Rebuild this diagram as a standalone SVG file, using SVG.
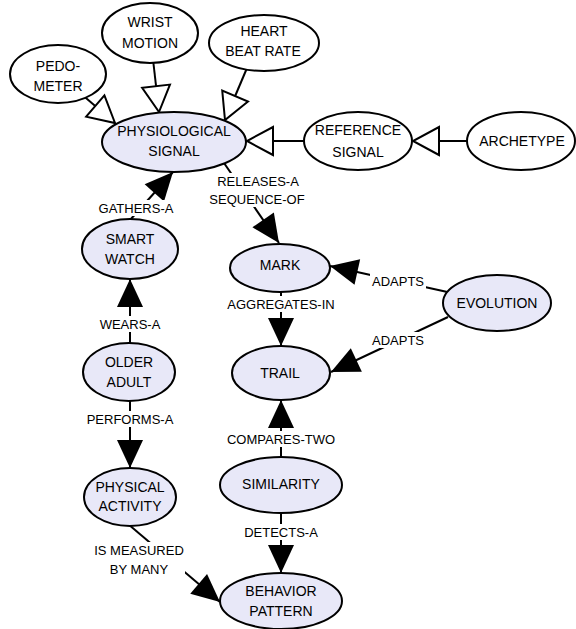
<svg xmlns="http://www.w3.org/2000/svg" width="576" height="629" viewBox="0 0 576 629">
<style>
.n ellipse{stroke:#000;stroke-width:2}
.w{fill:#fff}
.v{fill:#e8e8f8}
text{font-family:"Liberation Sans",Arial,sans-serif;fill:#000;text-anchor:middle}
.n text{font-size:14px}
.lbl text{font-size:13px}
.lbl rect{fill:#fff}
.c line{stroke:#000;stroke-width:2;fill:none}
.f{marker-end:url(#fa)}
.h{marker-end:url(#ha)}
</style>
<defs>
<marker id="fa" markerUnits="userSpaceOnUse" markerWidth="30" markerHeight="30" refX="28" refY="13" orient="auto" overflow="visible">
<path d="M0,0 L28,13 L0,26 Z" fill="#000"/>
</marker>
<marker id="ha" markerUnits="userSpaceOnUse" markerWidth="32" markerHeight="32" refX="27" refY="14" orient="auto" overflow="visible">
<path d="M1,0 L27,14 L1,28 Z" fill="#fff" stroke="#000" stroke-width="2" stroke-linejoin="miter"/>
</marker>
</defs>
<g id="connectors" class="c">
<line class="h" x1="58" y1="74" x2="115" y2="123"/>
<line class="h" x1="150" y1="33" x2="159" y2="112"/>
<line class="h" x1="247" y1="68" x2="225" y2="120"/>
<line class="h" x1="358" y1="141" x2="247" y2="141"/>
<line class="h" x1="521" y1="141" x2="413" y2="141"/>
<line class="f" x1="130" y1="220" x2="173" y2="172"/>
<line class="f" x1="224" y1="163" x2="279" y2="243"/>
<line class="f" x1="130" y1="372" x2="130" y2="279"/>
<line class="f" x1="130" y1="372" x2="130" y2="468"/>
<line class="f" x1="281" y1="268" x2="281" y2="346"/>
<line class="f" x1="497" y1="303" x2="330" y2="266"/>
<line class="f" x1="448" y1="317" x2="331" y2="372"/>
<line class="f" x1="281" y1="485" x2="281" y2="400"/>
<line class="f" x1="281" y1="485" x2="281" y2="573"/>
<line class="f" x1="128" y1="524" x2="220" y2="602"/>
<g class="lbl">
<rect x="97" y="200" width="78" height="16"/><text x="136" y="213">GATHERS-A</text>
<rect x="221" y="173" width="74" height="34"/><text x="258" y="186">RELEASES-A</text><text x="257" y="204">SEQUENCE-OF</text>
<rect x="97" y="316" width="66" height="16"/><text x="130" y="329">WEARS-A</text>
<rect x="87" y="411" width="86" height="16"/><text x="130" y="424">PERFORMS-A</text>
<rect x="225" y="296" width="112" height="16"/><text x="281" y="309">AGGREGATES-IN</text>
<rect x="370" y="273" width="56" height="16"/><text x="398" y="286">ADAPTS</text>
<rect x="370" y="332" width="56" height="16"/><text x="398" y="345">ADAPTS</text>
<rect x="225" y="431" width="112" height="16"/><text x="281" y="444">COMPARES-TWO</text>
<rect x="243" y="524" width="76" height="16"/><text x="281" y="537">DETECTS-A</text>
<rect x="93" y="542" width="92" height="35"/><text x="139" y="555">IS MEASURED</text><text x="139" y="574">BY MANY</text>
</g>
</g>
<g id="pedometer" class="n"><ellipse class="w" cx="58" cy="74" rx="48" ry="29"/><text x="58" y="71">PEDO-</text><text x="58" y="91">METER</text></g>
<g id="wrist-motion" class="n"><ellipse class="w" cx="150" cy="33" rx="48" ry="30"/><text x="150" y="27">WRIST</text><text x="150" y="48">MOTION</text></g>
<g id="heart-beat-rate" class="n"><ellipse class="w" cx="264" cy="43" rx="55" ry="28"/><text x="264" y="36">HEART</text><text x="263" y="56">BEAT RATE</text></g>
<g id="physiological-signal" class="n"><ellipse class="v" cx="174" cy="142" rx="72" ry="30"/><text x="174" y="136">PHYSIOLOGICAL</text><text x="174" y="156">SIGNAL</text></g>
<g id="reference-signal" class="n"><ellipse class="w" cx="358" cy="141" rx="54" ry="29"/><text x="358" y="135">REFERENCE</text><text x="358" y="157">SIGNAL</text></g>
<g id="archetype" class="n"><ellipse class="w" cx="521" cy="141" rx="54" ry="29"/><text x="522" y="146">ARCHETYPE</text></g>
<g id="smart-watch" class="n"><ellipse class="v" cx="130" cy="249" rx="48" ry="30"/><text x="130" y="244">SMART</text><text x="130" y="264">WATCH</text></g>
<g id="older-adult" class="n"><ellipse class="v" cx="129" cy="372" rx="46" ry="29"/><text x="129" y="367">OLDER</text><text x="129" y="387">ADULT</text></g>
<g id="mark" class="n"><ellipse class="v" cx="280" cy="268" rx="50" ry="24"/><text x="280" y="270">MARK</text></g>
<g id="evolution" class="n"><ellipse class="v" cx="497" cy="303" rx="54" ry="28"/><text x="497" y="308">EVOLUTION</text></g>
<g id="trail" class="n"><ellipse class="v" cx="281" cy="373" rx="49" ry="27"/><text x="280" y="378">TRAIL</text></g>
<g id="physical-activity" class="n"><ellipse class="v" cx="130" cy="497" rx="46" ry="29"/><text x="130" y="492">PHYSICAL</text><text x="130" y="511">ACTIVITY</text></g>
<g id="similarity" class="n"><ellipse class="v" cx="281" cy="485" rx="61" ry="28"/><text x="281" y="489">SIMILARITY</text></g>
<g id="behavior-pattern" class="n"><ellipse class="v" cx="281" cy="601" rx="61" ry="28"/><text x="281" y="596">BEHAVIOR</text><text x="281" y="616">PATTERN</text></g>
</svg>
